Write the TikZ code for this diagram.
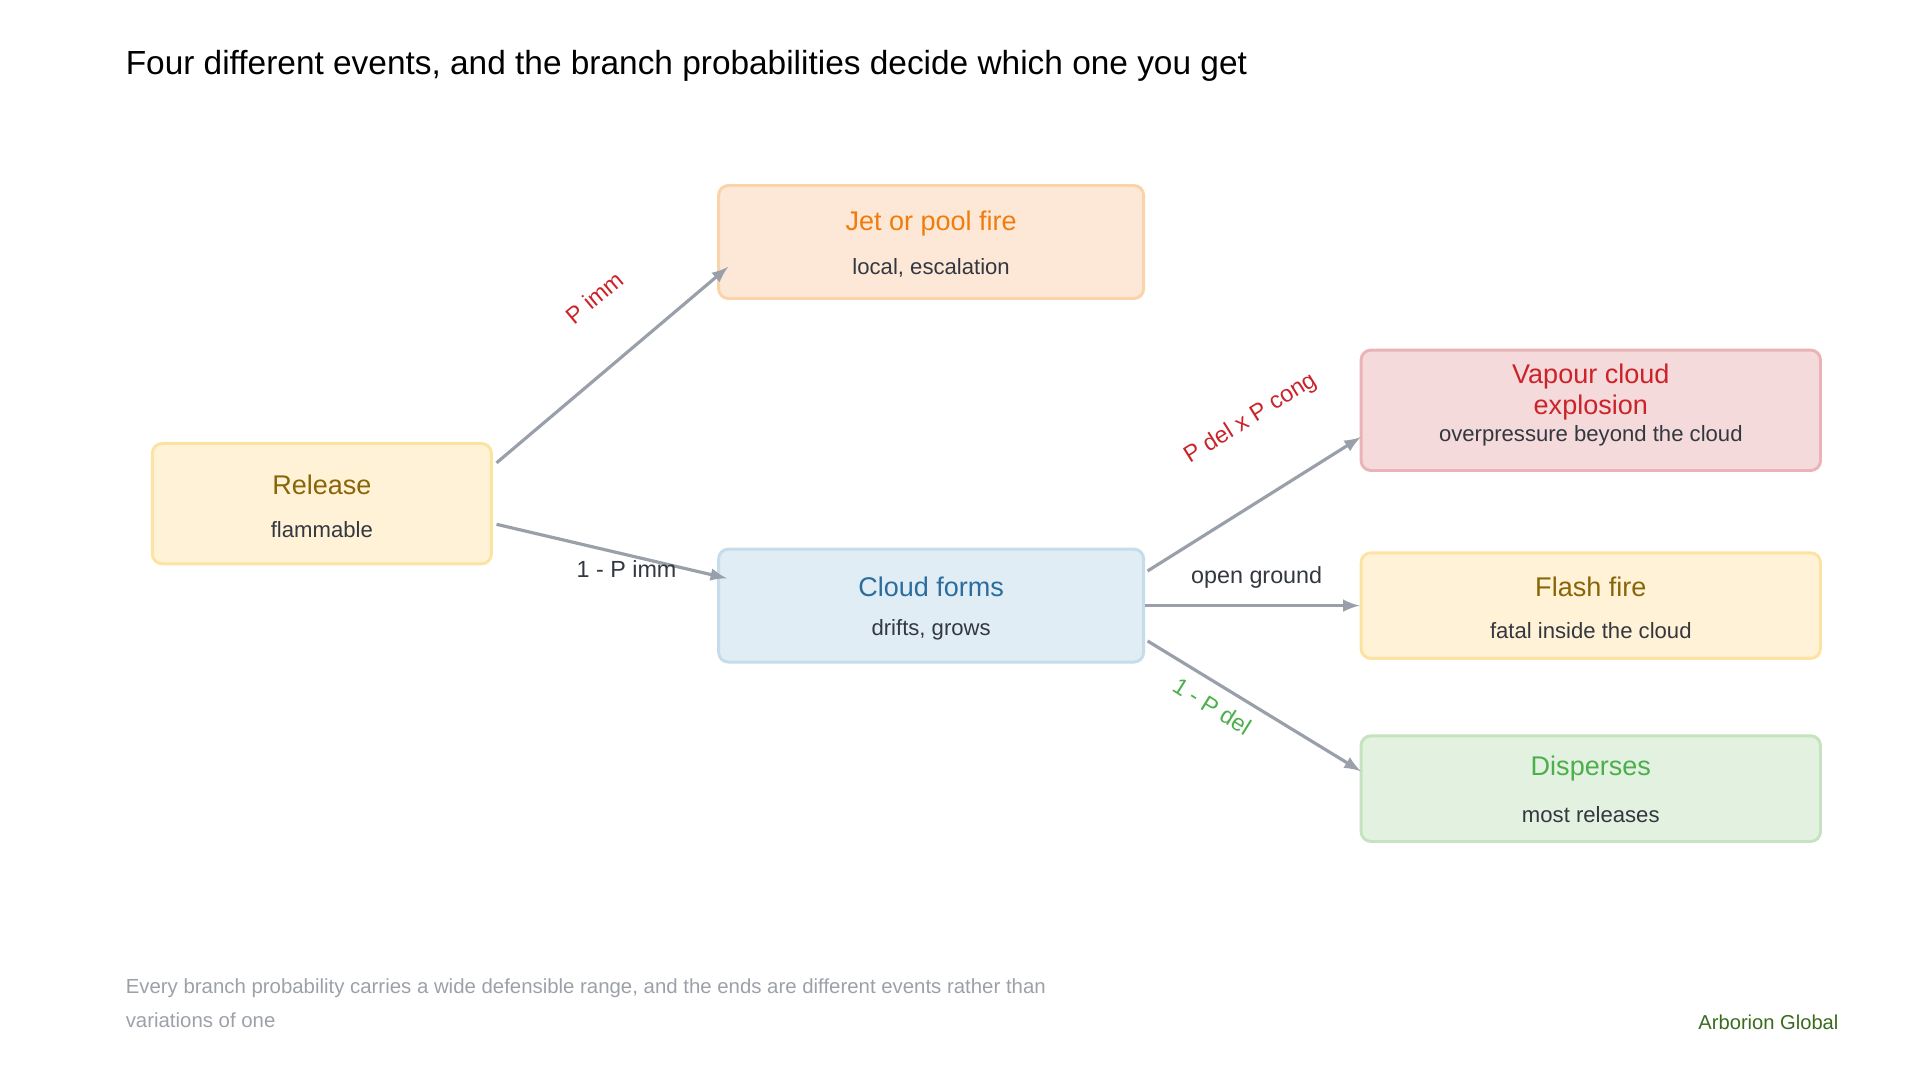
\documentclass[tikz,border=0pt]{standalone}
\usepackage{fontspec}
\setmainfont{Liberation Sans}
\usetikzlibrary{positioning,calc}
\definecolor{arr}{HTML}{9AA0AA}
\definecolor{sub}{HTML}{333840}
\definecolor{orF}{HTML}{FDE8D7}\definecolor{orD}{HTML}{FBD3A8}\definecolor{orT}{HTML}{F07C0C}
\definecolor{yeF}{HTML}{FFF2D6}\definecolor{yeD}{HTML}{FDE3A1}\definecolor{yeT}{HTML}{8A6508}
\definecolor{blF}{HTML}{E1EDF5}\definecolor{blD}{HTML}{C6DCEB}\definecolor{blT}{HTML}{2A6D9E}
\definecolor{reF}{HTML}{F4DADB}\definecolor{reD}{HTML}{EBB3B7}\definecolor{reT}{HTML}{CC2229}
\definecolor{grF}{HTML}{E3F1E0}\definecolor{grD}{HTML}{C4E3BE}\definecolor{grT}{HTML}{4BAF4B}
\definecolor{foot}{HTML}{9CA0A8}\definecolor{brand}{HTML}{3A6A1E}
\begin{document}
\begin{tikzpicture}[x=0.5pt,y=-0.5pt,
        box/.style={draw, rounded corners=4pt, line width=1.2pt, inner sep=0pt},
        lbl/.style={font=\fontsize{9.5}{11}\selectfont},
        link/.style={draw=arr, line width=1.3pt, -latex}
        ]
        \useasboundingbox (0,0) rectangle (1563,879);
        \node[anchor=west, inner sep=0pt, font=\fontsize{13.6}{15}\selectfont] (title) at (102,54)
            {Four different events, and the branch probabilities decide which one you get};

        % event boxes
        \node [box, fill=yeF, draw=yeD, minimum width=138pt, minimum height=49pt] (rel) at (262,410) {};
        \node [box, fill=orF, draw=orD, minimum width=173pt, minimum height=46pt] (jet) at (758,197) {};
        \node [box, fill=blF, draw=blD, minimum width=173pt, minimum height=46pt] (cld) at (758,493) {};
        \node [box, fill=reF, draw=reD, minimum width=187pt, minimum height=49pt] (vce) at (1295,334) {};
        \node [box, fill=yeF, draw=yeD, minimum width=187pt, minimum height=43pt] (ffi) at (1295,493) {};
        \node [box, fill=grF, draw=grD, minimum width=187pt, minimum height=43pt] (dis) at (1295,642) {};

        % box texts
        \node [font=\fontsize{11}{13}\selectfont, text=yeT] at (262,395) {Release};
        \node [font=\fontsize{9}{11}\selectfont, text=sub] at (262,431) {flammable};
        \node [font=\fontsize{11}{13}\selectfont, text=orT] at (758,182) {Jet or pool fire};
        \node [font=\fontsize{9}{11}\selectfont, text=sub] at (758,218) {local, escalation};
        \node [font=\fontsize{11}{13}\selectfont, text=blT] at (758,478) {Cloud forms};
        \node [font=\fontsize{9}{11}\selectfont, text=sub] at (758,513) {drifts, grows};
        \node [font=\fontsize{11}{12.5}\selectfont, text=reT, align=center] at (1295,319) {Vapour cloud\\explosion};
        \node [font=\fontsize{9}{11}\selectfont, text=sub] at (1295,355) {overpressure beyond the cloud};
        \node [font=\fontsize{11}{13}\selectfont, text=yeT] at (1295,478) {Flash fire};
        \node [font=\fontsize{9}{11}\selectfont, text=sub] at (1295,513) {fatal inside the cloud};
        \node [font=\fontsize{11}{13}\selectfont, text=grT] at (1295,626) {Disperses};
        \node [font=\fontsize{9}{11}\selectfont, text=sub] at (1295,663) {most releases};

        % branches
        \coordinate (r1) at ($(rel.north east)+(3,17)$);
        \coordinate (r2) at ($(rel.north east)+(3,67)$);
        \coordinate (c1) at ($(cld.north east)+(2,19)$);
        \coordinate (c3) at ($(cld.north east)+(2,76)$);
        \draw [link] (r1) -- ($(jet.south west)+(9,-27)$);
        \draw [link] (r2) -- ($(cld.north west)+(8,25)$);
        \draw [link] (c1) -- ($(vce.north west)+(1,72)$);
        \draw [link] (cld.east) -- (ffi.west);
        \draw [link] (c3) -- ($(dis.north west)+(1,30)$);

        \node [lbl, text=reT, rotate=40] at (484,242) {P imm};
        \node [lbl, text=sub] at (510,463) {1 - P imm};
        \node [lbl, text=reT, rotate=32] at (1018,341) {P del x P cong};
        \node [lbl, text=sub] at (1023,470) {open ground};
        \node [lbl, text=grT, rotate=-32] at (987,575) {1 - P del};

        \node [anchor=north west, inner sep=0pt, align=left, text=foot, font=\fontsize{8.3}{14}\selectfont] at (102,796)
            {Every branch probability carries a wide defensible range, and the ends are different events rather than\\variations of one};
        \node [anchor=east, inner sep=0pt, text=brand, font=\fontsize{8.2}{10}\selectfont] at (1497,832) {Arborion Global};
\end{tikzpicture}
\end{document}
